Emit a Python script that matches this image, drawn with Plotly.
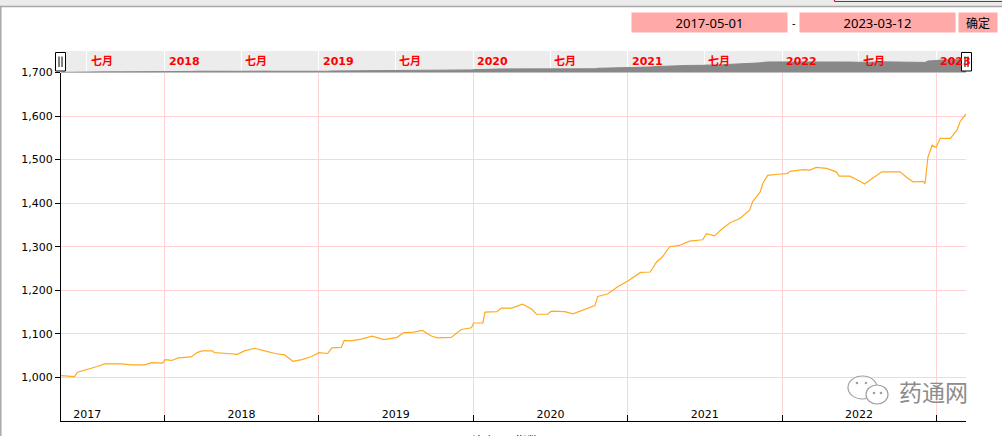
import plotly.graph_objects as go

# ---------------- data ----------------
dates = [
    "2017-05-01", "2017-06-02", "2017-06-09", "2017-07-02", "2017-07-26", "2017-08-12", "2017-09-21",
    "2017-10-15", "2017-11-15", "2017-12-02", "2017-12-27",
    "2018-01-02", "2018-01-18", "2018-02-02", "2018-03-05", "2018-03-19", "2018-03-31", "2018-04-24",
    "2018-04-29", "2018-05-30", "2018-06-22", "2018-07-09", "2018-08-02", "2018-08-26", "2018-09-19",
    "2018-10-12", "2018-11-01", "2018-11-22", "2018-12-15",
    "2019-01-01", "2019-01-22", "2019-02-01", "2019-02-23", "2019-03-02", "2019-03-18", "2019-04-11",
    "2019-05-07", "2019-06-04", "2019-07-05", "2019-07-21", "2019-08-14", "2019-09-03", "2019-09-24",
    "2019-10-08", "2019-11-10", "2019-12-04", "2019-12-28",
    "2020-01-02", "2020-01-24", "2020-01-29", "2020-02-26", "2020-03-08", "2020-04-01", "2020-04-27",
    "2020-05-18", "2020-05-30", "2020-06-25", "2020-07-04", "2020-08-05", "2020-08-24", "2020-09-22",
    "2020-10-15", "2020-10-22", "2020-11-15", "2020-12-08",
    "2021-01-02", "2021-01-31", "2021-02-23", "2021-03-10", "2021-03-24", "2021-04-10", "2021-05-03",
    "2021-05-27", "2021-06-27", "2021-07-06", "2021-07-25", "2021-08-13", "2021-08-31", "2021-09-23",
    "2021-10-16", "2021-10-23", "2021-11-10", "2021-11-17", "2021-11-28", "2021-12-27",
    "2022-01-13", "2022-01-20", "2022-02-19", "2022-03-07", "2022-03-23", "2022-04-16", "2022-05-09",
    "2022-05-16", "2022-06-10", "2022-07-03", "2022-07-15", "2022-08-03", "2022-08-25", "2022-09-13",
    "2022-10-07", "2022-10-23", "2022-11-07", "2022-12-01", "2022-12-05", "2022-12-12", "2022-12-22",
    "2022-12-31",
    "2023-01-10", "2023-02-03", "2023-02-19", "2023-02-26", "2023-03-09", "2023-03-12",
]
index_values = [
    1004, 1002, 1012, 1018, 1025, 1031, 1031, 1029, 1029, 1034, 1033,
    1041, 1039, 1045, 1047, 1057, 1061, 1061, 1057, 1055, 1053, 1061, 1067, 1061, 1055, 1052, 1037, 1041, 1048,
    1057, 1055, 1068, 1069, 1085, 1084, 1088, 1095, 1087, 1092, 1103, 1104, 1108, 1095, 1091, 1092, 1110, 1114,
    1125, 1125, 1150, 1151, 1159, 1159, 1168, 1157, 1145, 1145, 1152, 1151, 1146, 1156, 1165, 1186, 1192, 1208,
    1222, 1241, 1242, 1265, 1277, 1300, 1303, 1313, 1316, 1330, 1325, 1342, 1355, 1365, 1384, 1403, 1426, 1447,
    1464, 1467,
    1468, 1473, 1477, 1476, 1482, 1480, 1472, 1462, 1462, 1451, 1444, 1457, 1472, 1472, 1472, 1459, 1449, 1450,
    1445, 1506, 1533, 1528,
    1549, 1549, 1568, 1587, 1602, 1605,
]

date_start = "2017-05-01"
date_end = "2023-03-12"

year_label_dates = ["2017-07-02", "2018-07-02", "2019-07-02", "2020-07-02", "2021-07-02", "2022-07-02"]
year_labels = ["2017", "2018", "2019", "2020", "2021", "2022"]

nav_label_dates = ["2017-07-01", "2018-01-01", "2018-07-01", "2019-01-01", "2019-07-01", "2020-01-01",
                   "2020-07-01", "2021-01-01", "2021-07-01", "2022-01-01", "2022-07-01", "2023-01-01"]
nav_labels = ["七月", "2018", "七月", "2019", "七月", "2020", "七月", "2021", "七月", "2022", "七月", "2023"]

y_range = [900, 1700]
nav_y_range = [1000, 1950]

# ---------------- layout helpers (pixel -> paper) ----------------
W, H = 1002, 436


def px(x):
    return x / W


def py(y):
    return 1 - y / H


LINE_COLOR = "#FFAA22"
GRID = "#FFD3D3"
FONT = "DejaVu Sans"

fig = go.Figure()

fig.add_trace(go.Scatter(
    x=dates, y=index_values, mode="lines",
    line=dict(color=LINE_COLOR, width=1.2),
    xaxis="x", yaxis="y", hoverinfo="x+y", showlegend=False,
))

# navigator area
fig.add_trace(go.Scatter(
    x=dates, y=index_values, mode="lines",
    line=dict(color="#888888", width=1), fill="tozeroy", fillcolor="#888888",
    xaxis="x2", yaxis="y2", hoverinfo="skip", showlegend=False,
))

fig.update_layout(
    width=W, height=H,
    margin=dict(l=0, r=0, t=0, b=0, pad=0),
    paper_bgcolor="white", plot_bgcolor="rgba(0,0,0,0)",
    font=dict(family=FONT, size=11, color="#000000"),
    xaxis=dict(
        type="date", range=[date_start, date_end],
        domain=[px(61), px(966)], anchor="y", automargin=False,
        tickmode="array", tickvals=year_label_dates, ticktext=year_labels,
        ticks="", ticklabelposition="inside", showgrid=False,
        showline=True, linecolor="#000000", linewidth=1,
        tickfont=dict(family=FONT, size=11, color="#000000"),
        minor=dict(dtick="M12", tick0="2017-01-01", ticks="inside", ticklen=6,
                   tickcolor="#000000", showgrid=True, gridcolor=GRID, gridwidth=1),
        zeroline=False, fixedrange=True,
    ),
    yaxis=dict(
        range=y_range, dtick=100, tickformat=",",
        domain=[py(421), py(72.5)], anchor="x", automargin=False,
        ticks="outside", ticklen=5, tickcolor="#000000",
        showline=True, linecolor="#000000", linewidth=1,
        showgrid=True, gridcolor=GRID, gridwidth=1,
        tickfont=dict(family=FONT, size=11, color="#000000"),
        zeroline=False, fixedrange=True,
    ),
    xaxis2=dict(
        type="date", range=[date_start, date_end],
        domain=[px(61), px(966)], anchor="y2", automargin=False,
        showticklabels=False, ticks="",
        dtick="M6", tick0="2017-01-01",
        showgrid=True, gridcolor="#FFFFFF", gridwidth=1,
        showline=False, zeroline=False, fixedrange=True,
    ),
    yaxis2=dict(
        range=nav_y_range, domain=[py(72.5), py(51)], anchor="x2", automargin=False,
        showticklabels=False, showgrid=False, zeroline=False, ticks="",
        fixedrange=True,
    ),
)

shapes = []
# navigator background
shapes.append(dict(type="rect", xref="x2 domain", yref="y2 domain", x0=0, x1=1, y0=0, y1=1,
                   fillcolor="#ECECEC", line=dict(width=0), layer="below"))
# top frame
shapes.append(dict(type="rect", xref="paper", yref="paper", x0=0, x1=1, y0=py(6), y1=1,
                   fillcolor="#EBEBEB", line=dict(width=0), layer="below"))
shapes.append(dict(type="line", xref="paper", yref="paper", x0=0, x1=1, y0=py(6.5), y1=py(6.5),
                   line=dict(color="#A8A8A8", width=1.5)))
shapes.append(dict(type="line", xref="paper", yref="paper", x0=px(0.8), x1=px(0.8), y0=py(6), y1=0,
                   line=dict(color="#A8A8A8", width=1.5)))
shapes.append(dict(type="line", xref="paper", yref="paper", x0=px(834.5), x1=1, y0=py(1.5), y1=py(1.5),
                   line=dict(color="#D0102A", width=1.2)))
shapes.append(dict(type="line", xref="paper", yref="paper", x0=px(834.5), x1=px(834.5), y0=py(1.5), y1=1,
                   line=dict(color="#D0102A", width=1.2)))

# navigator handles
for cx in (60.5, 966.5):
    shapes.append(dict(type="rect", xref="paper", yref="paper",
                       x0=px(cx - 5), x1=px(cx + 5), y0=py(71), y1=py(52.5),
                       fillcolor="#FFFFFF", line=dict(color="#000000", width=1)))
    for dx in (-1.5, 1.5):
        shapes.append(dict(type="line", xref="paper", yref="paper",
                           x0=px(cx + dx), x1=px(cx + dx), y0=py(67), y1=py(56.5),
                           line=dict(color="#000000", width=1)))

# watermark icon (two chat bubbles)
shapes.append(dict(type="circle", xref="paper", yref="paper",
                   x0=px(848), x1=px(877), y0=py(399), y1=py(376),
                   fillcolor="rgba(255,255,255,0.6)", line=dict(color="#A0A0A0", width=1.2)))
shapes.append(dict(type="circle", xref="paper", yref="paper",
                   x0=px(866), x1=px(888), y0=py(404), y1=py(385),
                   fillcolor="#FFFFFF", line=dict(color="#A0A0A0", width=1.2)))
for (ex, ey) in ((857, 383), (866, 383), (874, 393), (881, 393)):
    shapes.append(dict(type="circle", xref="paper", yref="paper",
                       x0=px(ex - 1.3), x1=px(ex + 1.3), y0=py(ey + 1.3), y1=py(ey - 1.3),
                       fillcolor="#A0A0A0", line=dict(width=0)))

fig.update_layout(shapes=shapes)

annotations = []
# navigator labels
for d, t in zip(nav_label_dates, nav_labels):
    annotations.append(dict(
        x=d, xref="x2", y=0.5, yref="y2 domain", text=t, showarrow=False,
        xanchor="left", yanchor="middle", xshift=2,
        font=dict(family="DejaVu Sans, Noto Sans CJK SC", size=11, color="#FF0000", weight="bold"),
    ))

# date range inputs
box_color = "#FFAAA8"
annotations.append(dict(x=px(709.5), y=py(22.5), xref="paper", yref="paper", text="2017-05-01",
                        xanchor="center", yanchor="middle",
                        showarrow=False, bgcolor=box_color, width=155, height=19, borderpad=0,
                        font=dict(family="Noto Sans", size=13, color="#000000")))
annotations.append(dict(x=px(877.5), y=py(22.5), xref="paper", yref="paper", text="2023-03-12",
                        xanchor="center", yanchor="middle",
                        showarrow=False, bgcolor=box_color, width=155, height=19, borderpad=0,
                        font=dict(family="Noto Sans", size=13, color="#000000")))
annotations.append(dict(x=px(793.5), y=py(22), xref="paper", yref="paper", text="-",
                        xanchor="center", yanchor="middle",
                        showarrow=False, borderpad=0,
                        font=dict(family="Noto Sans", size=11, color="#000000")))
annotations.append(dict(x=px(978), y=py(22.5), xref="paper", yref="paper", text="确定",
                        xanchor="center", yanchor="middle",
                        showarrow=False, bgcolor=box_color, width=38, height=19, borderpad=0,
                        font=dict(family="Noto Sans CJK SC", size=12, color="#000000")))

# watermark text
annotations.append(dict(x=px(933), y=py(391), xref="paper", yref="paper", text="药通网",
                        xanchor="center", yanchor="middle",
                        showarrow=False, font=dict(family="Noto Sans CJK SC", size=23, color="#8C8C8C")))

# cut-off axis title at bottom
annotations.append(dict(x=px(505), y=py(440), xref="paper", yref="paper", text="综合200指数",
                        xanchor="center", yanchor="middle",
                        showarrow=False,
                        font=dict(family="Noto Sans CJK SC", size=12, color="#000000")))

fig.update_layout(annotations=annotations)

fig.write_html("out.html", config={"displayModeBar": False},
               post_script="document.body.style.margin='0';document.body.style.overflow='hidden';")
